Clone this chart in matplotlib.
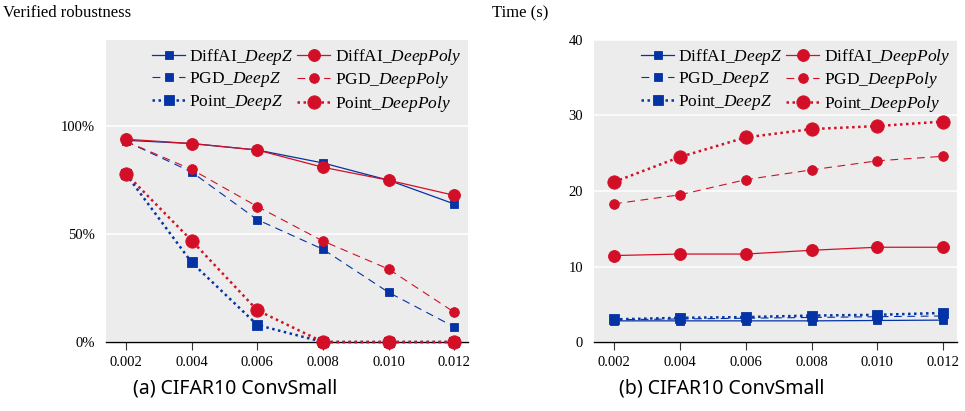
import matplotlib
matplotlib.use("Agg")
import matplotlib.pyplot as plt
from matplotlib.ticker import FuncFormatter

eps = [0.002, 0.004, 0.006, 0.008, 0.010, 0.012]
xtick_labels = ["0.002", "0.004", "0.006", "0.008", "0.010", "0.012"]

# Verified robustness (fraction)
rob_diffai_deepz = [0.935, 0.92, 0.89, 0.83, 0.75, 0.64]
rob_diffai_deeppoly = [0.94, 0.92, 0.89, 0.81, 0.75, 0.68]
rob_pgd_deepz = [0.93, 0.788, 0.567, 0.43, 0.23, 0.07]
rob_pgd_deeppoly = [0.93, 0.80, 0.628, 0.468, 0.338, 0.138]
rob_point_deepz = [0.778, 0.369, 0.079, 0.0, 0.0, 0.0]
rob_point_deeppoly = [0.78, 0.47, 0.147, 0.0, 0.0, 0.0]

# Time (s)
t_diffai_deepz = [2.8, 2.8, 2.8, 2.8, 2.85, 2.9]
t_diffai_deeppoly = [11.45, 11.65, 11.65, 12.15, 12.55, 12.55]
t_pgd_deepz = [2.95, 3.05, 3.15, 3.25, 3.35, 3.45]
t_pgd_deeppoly = [18.3, 19.5, 21.5, 22.8, 24.0, 24.6]
t_point_deepz = [3.0, 3.2, 3.3, 3.5, 3.6, 3.85]
t_point_deeppoly = [21.2, 24.5, 27.1, 28.2, 28.6, 29.2]

labels = ["DiffAI_$\\it{DeepZ}$", "DiffAI_$\\it{DeepPoly}$",
          "PGD_$\\it{DeepZ}$", "PGD_$\\it{DeepPoly}$",
          "Point_$\\it{DeepZ}$", "Point_$\\it{DeepPoly}$"]

BLUE = "#0433a5"
RED = "#d20f26"
SERIF = ["Liberation Serif", "DejaVu Serif"]

plt.rcParams["font.family"] = SERIF
plt.rcParams["mathtext.fontset"] = "custom"
plt.rcParams["mathtext.it"] = "Liberation Serif:italic"
plt.rcParams["mathtext.rm"] = "Liberation Serif"

fig = plt.figure(figsize=(9.65, 4.11), dpi=100)
W, H = 965, 411


def make_ax(x0, x1, y0, y1):
    return fig.add_axes([x0 / W, 1 - y1 / H, (x1 - x0) / W, (y1 - y0) / H])


ax1 = make_ax(106, 468, 40, 342)
ax2 = make_ax(594, 957, 40, 342)

styles = [
    dict(color=BLUE, ls="-", lw=0.9, marker="s", ms=6.0),
    dict(color=RED, ls="-", lw=0.9, marker="o", ms=8.6),
    dict(color=BLUE, ls=(0, (7, 5)), lw=0.8, marker="s", ms=6.0),
    dict(color=RED, ls=(0, (7, 5)), lw=0.8, marker="o", ms=7.0),
    dict(color=BLUE, ls=(0, (1, 1.4)), lw=1.8, marker="s", ms=7.4),
    dict(color=RED, ls=(0, (1, 1.4)), lw=1.8, marker="o", ms=9.6),
]

rob = [rob_diffai_deepz, rob_diffai_deeppoly, rob_pgd_deepz,
       rob_pgd_deeppoly, rob_point_deepz, rob_point_deeppoly]
tim = [t_diffai_deepz, t_diffai_deeppoly, t_pgd_deepz,
       t_pgd_deeppoly, t_point_deepz, t_point_deeppoly]

draw_order = [0, 2, 4, 1, 3, 5]  # blue first, red on top
legend_order = [0, 2, 4, 1, 3, 5]  # column-major fill -> rows pair up

for ax, data in ((ax1, rob), (ax2, tim)):
    ax.set_facecolor("#ececec")
    handles = [None] * 6
    for z, i in enumerate(draw_order):
        st = styles[i]
        (h,) = ax.plot(eps, data[i], color=st["color"], linestyle=st["ls"],
                       linewidth=st["lw"], marker=st["marker"],
                       markersize=st["ms"], markeredgewidth=0.6,
                       markeredgecolor=st["color"], label=labels[i],
                       zorder=3 + z, clip_on=False)
        handles[i] = h
    ax.set_xlim(0.00139, 0.01242)
    ax.set_xticks(eps)
    ax.set_xticklabels(xtick_labels)
    for s in ("top", "right", "left"):
        ax.spines[s].set_visible(False)
    ax.spines["bottom"].set_color("black")
    ax.spines["bottom"].set_linewidth(1.0)
    ax.grid(axis="y", color="white", linewidth=1.1)
    ax.set_axisbelow(True)
    ax.tick_params(axis="x", direction="out", length=6, width=0.8,
                   labelsize=10.5, pad=4, color="#333333")
    ax.tick_params(axis="y", length=0, labelsize=10.5, pad=8)
    ax.legend(handles=[handles[i] for i in legend_order], ncol=2,
              loc="upper right", frameon=False, fontsize=12.5,
              handlelength=1.9, handletextpad=0.25, columnspacing=0.2,
              labelspacing=0.2, borderaxespad=0.0, borderpad=0.4,
              bbox_to_anchor=(1.0, 1.0))

ax1.set_ylim(0, 1.4)
ax1.set_yticks([0, 0.5, 1.0])
ax1.yaxis.set_major_formatter(FuncFormatter(lambda v, p: f"{int(round(v * 100))}%"))

ax2.set_ylim(0, 40)
ax2.set_yticks([0, 10, 20, 30, 40])

fig.text(3 / W, 1 - 13 / H, "Verified robustness", fontsize=12, va="center",
         ha="left")
fig.text(492 / W, 1 - 13 / H, "Time (s)", fontsize=12, va="center", ha="left")

fig.text(235 / W, 1 - 388 / H, "(a) CIFAR10 ConvSmall", fontsize=14,
         ha="center", va="center", family=["Noto Sans", "DejaVu Sans"])
fig.text(722 / W, 1 - 388 / H, "(b) CIFAR10 ConvSmall", fontsize=14,
         ha="center", va="center", family=["Noto Sans", "DejaVu Sans"])

fig.savefig("out.png", dpi=100)
